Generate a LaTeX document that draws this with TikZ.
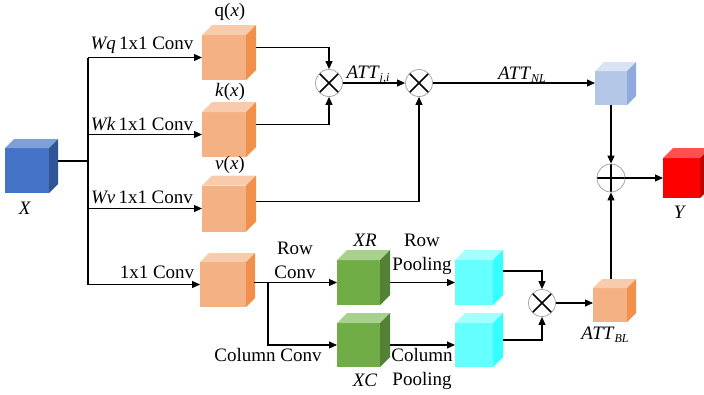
\documentclass[tikz,border=0pt]{standalone}
\usepackage{fontspec}
\setmainfont{Liberation Serif}
\usetikzlibrary{arrows.meta,calc}
\definecolor{bluef}{HTML}{4472C4}\definecolor{bluet}{HTML}{7F9FD8}\definecolor{blues}{HTML}{2F5597}
\definecolor{orf}{HTML}{F4B183}\definecolor{ort}{HTML}{F8CBAD}\definecolor{ors}{HTML}{F0904A}
\definecolor{lbf}{HTML}{B4C7E7}\definecolor{lbt}{HTML}{DAE3F3}\definecolor{lbs}{HTML}{8FAADC}
\definecolor{redf}{HTML}{FF0000}\definecolor{redt}{HTML}{FF5050}\definecolor{reds}{HTML}{C00000}
\definecolor{grf}{HTML}{70AD47}\definecolor{grt}{HTML}{A9D18E}\definecolor{grs}{HTML}{548235}
\definecolor{cyf}{HTML}{66FFFF}\definecolor{cyt}{HTML}{A5FFFF}\definecolor{cys}{HTML}{33FFFF}
\newcommand{\mycube}[9]{%
  \node[minimum width=#4pt, minimum height=#5pt, fill=#7, inner sep=0pt, outer sep=0pt] (#1) at (#2,#3) {};
  \fill[#8] (#1.north west) -- ++(#6,-#6) -- ++(#4,0) -- (#1.north east) -- cycle;
  \fill[#9] (#1.north east) -- ++(#6,-#6) -- ++(0,#5) -- (#1.south east) -- cycle;
}
\newcommand{\subl}[1]{\raisebox{-3pt}{\fontsize{12}{13}\selectfont\textit{#1}}}
\tikzset{
  ln/.style={line width=1.1pt},
  arr/.style={ln, -{Triangle[length=8pt,width=7pt]}},
  lbl/.style={font=\fontsize{19}{24}\selectfont, inner sep=0pt, align=center},
  mult/.style={circle, draw=gray!70, line width=0.8pt, minimum size=27pt, inner sep=0pt,
    path picture={\draw[draw=black, line width=1.7pt] (path picture bounding box.north west) -- (path picture bounding box.south east)
      (path picture bounding box.north east) -- (path picture bounding box.south west);}},
  plus/.style={circle, draw=gray!70, line width=0.8pt, minimum size=28pt, inner sep=0pt,
    path picture={\draw[draw=black, line width=1.5pt] (path picture bounding box.north) -- (path picture bounding box.south)
      (path picture bounding box.east) -- (path picture bounding box.west);}}
}
\begin{document}
\begin{tikzpicture}[x=1pt,y=-1pt]
\useasboundingbox (0,0) rectangle (704,394);
% cubes
\mycube{X}{27}{170.5}{44}{45}{9}{bluef}{bluet}{blues}
\mycube{q}{224}{57.5}{44}{45}{10}{orf}{ort}{ors}
\mycube{k}{224}{134.5}{44}{45}{10}{orf}{ort}{ors}
\mycube{v}{224}{208.5}{44}{46}{10}{orf}{ort}{ors}
\mycube{c1}{223}{284.5}{46}{45}{9}{orf}{ort}{ors}
\mycube{XR}{358.5}{282.5}{43}{45}{10}{grf}{grt}{grs}
\mycube{XC}{358.5}{345}{43}{44}{10}{grf}{grt}{grs}
\mycube{RP}{474}{282.5}{38}{45}{10}{cyf}{cyt}{cys}
\mycube{CP}{474}{345}{38}{44}{10}{cyf}{cyt}{cys}
\mycube{bl}{610}{305}{34}{34}{9}{orf}{ort}{ors}
\mycube{nl}{611}{88}{32}{34}{9}{lbf}{lbt}{lbs}
\mycube{Y}{681.5}{178}{37}{40}{10}{redf}{redt}{reds}
% operators
\node[mult] (m1) at (329,83) {};
\node[mult] (m2) at (419,83) {};
\node[mult] (m3) at (542,303) {};
\node[plus] (pl) at (611,178) {};
% trunk
\coordinate (xo) at (58,161);
\coordinate (tt) at (88,58);
\coordinate (tb) at (88,285);
\draw[ln] (xo) -- (xo -| tt);
\draw[ln] (tt) -- (tb);
\draw[arr] (q.west -| tt) -- (q.west);
\draw[arr] (k.west -| tt) -- (k.west);
\draw[arr] (v.west -| tt) -- (v.west);
\draw[arr] (c1.west -| tt) -- (c1.west);
% attention branch
\draw[arr] ([shift={(10,-10)}]q.east) -| (m1.north);
\draw[arr] ([shift={(10,-10)}]k.east) -| (m1.south);
\draw[arr] (m1.east) -- (m2.west);
\draw[arr] ([shift={(10,-7)}]v.east) -| (m2.south);
\draw[arr] (m2.east) -- (m2.east -| nl.west);
\draw[arr] (nl.south) -- (nl.south |- pl.north);
\draw[arr] (pl.east) -- (Y.west);
\draw[arr] ([shift={(1,-9)}]bl.north) -- (pl.south);
% lower branch
\coordinate (br) at (268,282.5);
\draw[arr] ([shift={(8,-2)}]c1.east) -- (XR.west);
\draw[arr] (br) |- (XC.west);
\draw[arr] ([shift={(10,0)}]XR.east) -- (RP.west);
\draw[arr] ([shift={(10,0)}]XC.east) -- (CP.west);
\draw[arr] ([shift={(10,-11.5)}]RP.east) -| (m3.north);
\draw[arr] ([shift={(10,-5)}]CP.east) -| (m3.south);
\draw[arr] (m3.east) -- (m3.east -| bl.west);
% labels
\node[lbl] (lq) at (230,12) {q(\textit{x})};
\node[lbl] (lk) at (230,92) {\textit{k}(\textit{x})};
\node[lbl] (lv) at (230,165) {\textit{v}(\textit{x})};
\node[lbl] (lwq) at (142,45) {\textit{Wq}\,1x1 Conv};
\node[lbl] (lwk) at (142,124) {\textit{Wk}\,1x1 Conv};
\node[lbl] (lwv) at (142,197) {\textit{Wv}\,1x1 Conv};
\node[lbl] (l11) at (157,272) {1x1 Conv};
\node[lbl] (lX) at (25,208) {\textit{X}};
\node[lbl] (lY) at (680,212) {\textit{Y}};
\node[lbl] (lij) at (368,75) {\textit{ATT}\subl{j,i}};
\node[lbl] (lnl) at (522,75) {\textit{ATT}\subl{NL}};
\node[lbl] (lbl) at (605,335) {\textit{ATT}\subl{BL}};
\node[lbl] (lrc) at (295,260) {Row\\Conv};
\node[lbl] (lcc) at (268,355) {Column Conv};
\node[lbl] (lxr) at (365,240) {\textit{XR}};
\node[lbl] (lxc) at (365,380) {\textit{XC}};
\node[lbl] (lrp) at (422,254) {Row\\Pooling};
\node[lbl] (lcp) at (422,369) {Column\\Pooling};
\end{tikzpicture}
\end{document}
